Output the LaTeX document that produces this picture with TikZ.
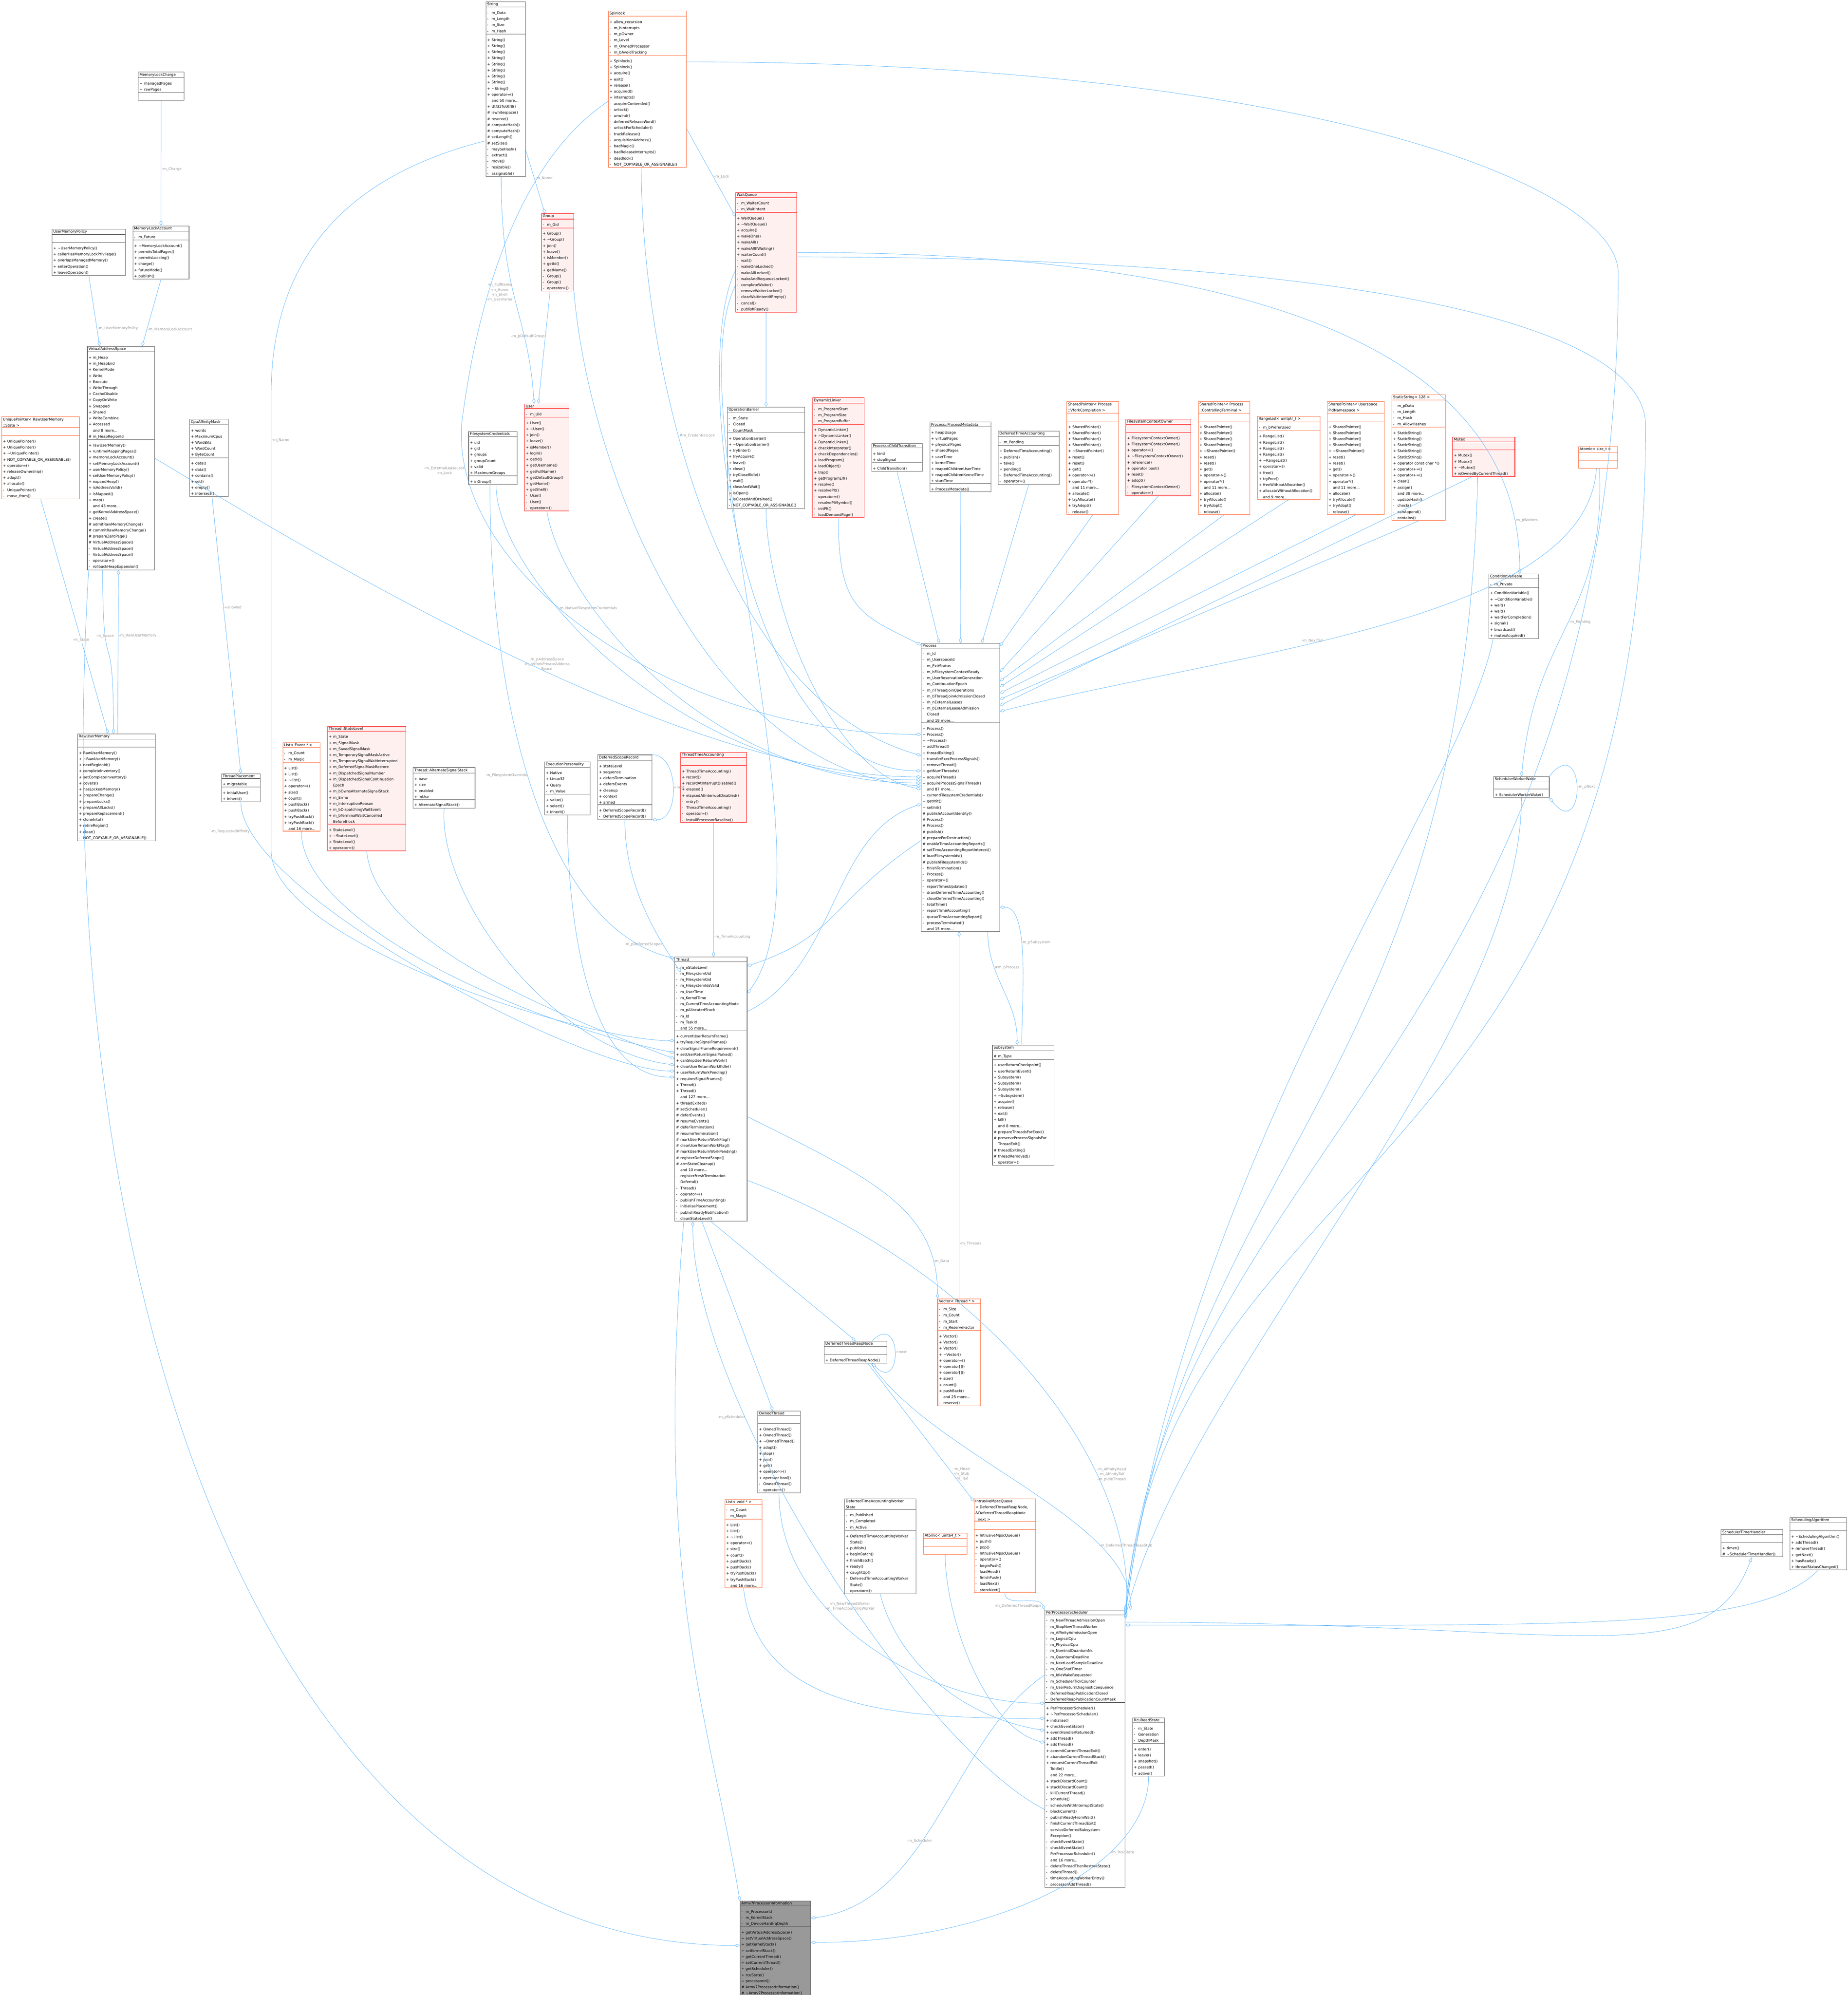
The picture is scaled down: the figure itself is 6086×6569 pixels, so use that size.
\documentclass[tikz,border=0pt]{standalone}
\usepackage{fontspec}
\setmainfont{DejaVu Sans}
\usetikzlibrary{shapes.multipart,arrows.meta,calc}
\definecolor{clsgray}{HTML}{666666}
\definecolor{tmplorange}{HTML}{FF6633}
\definecolor{hotred}{HTML}{FF0000}
\definecolor{hotfill}{HTML}{FFF0F0}
\definecolor{curgray}{HTML}{999999}
\definecolor{edgeblue}{HTML}{63B8FF}
\definecolor{lblgray}{HTML}{9A9A9A}
\newcommand\clsfont{\fontsize{3.0pt}{5pt}\selectfont\hyphenpenalty=10000\exhyphenpenalty=10000}
\newcommand\lblfont{\fontsize{3.0pt}{4pt}\selectfont}
\newcommand\mm[2]{\par\makebox[3.6pt][l]{#1}#2}
\newcommand\mc[1]{\par\hspace*{3.6pt}#1}
\newcommand\tl{\textasciitilde}
\setlength\parindent{0pt}
\tikzset{
  cls/.style={draw=clsgray, fill=white, rectangle split, rectangle split parts=3,
    rectangle split part align={center,left,left}, text width=#1,
    inner xsep=1pt, inner ysep=0.6pt, font=\clsfont, anchor=north west, line width=0.35pt},
  tmpl/.style={cls=#1, draw=tmplorange},
  hot/.style={cls=#1, draw=hotred, fill=hotfill},
  cur/.style={cls=#1, fill=curgray},
  agg/.style={draw=edgeblue, line width=0.3pt, -{Diamond[open,length=4.5pt,width=2.6pt]}},
  inh/.style={draw=edgeblue, line width=0.3pt, -{Triangle[open,length=4pt,width=3pt]}},
  lbl/.style={font=\lblfont, text=lblgray, align=center, inner sep=0.5pt}
}
\begin{document}
\begin{tikzpicture}[x=0.25pt, y=-0.25pt]
\useasboundingbox (0,0) rectangle (6086,6569);

% memory side
\node[cls=35.5pt] (charge) at (455,237) {MemoryLockCharge
  \nodepart{second}\mm{+}{managedPages}\mm{+}{rawPages}
  \nodepart{third}\strut};
\node[cls=58.5pt] (ump) at (171,754) {UserMemoryPolicy
  \nodepart{second}\strut
  \nodepart{third}\mm{+}{\tl UserMemoryPolicy()}\mm{+}{callerHasMemoryLockPrivilege()}\mm{+}{overlapsManagedMemory()}\mm{+}{enterOperation()}\mm{+}{leaveOperation()}};
\node[cls=44.25pt] (mla) at (437,743) {MemoryLockAccount
  \nodepart{second}\mm{-}{m\_Future}
  \nodepart{third}\mm{+}{\tl MemoryLockAccount()}\mm{+}{permitsTotalPages()}\mm{+}{permitsLocking()}\mm{+}{charge()}\mm{+}{futureMode()}\mm{+}{publish()}};
\node[cls=53.25pt] (vas) at (287,1140) {VirtualAddressSpace
  \nodepart{second}\mm{+}{m\_Heap}\mm{+}{m\_HeapEnd}\mm{+}{KernelMode}\mm{+}{Write}\mm{+}{Execute}\mm{+}{WriteThrough}\mm{+}{CacheDisable}\mm{+}{CopyOnWrite}\mm{+}{Swapped}\mm{+}{Shared}\mm{+}{WriteCombine}\mm{+}{Accessed}\mc{and 8 more...}\mm{\#}{m\_HeapRegionId}
  \nodepart{third}\mm{+}{rawUserMemory()}\mm{+}{runtimeMappingPages()}\mm{+}{memoryLockAccount()}\mm{+}{setMemoryLockAccount()}\mm{+}{userMemoryPolicy()}\mm{+}{setUserMemoryPolicy()}\mm{+}{expandHeap()}\mm{+}{isAddressValid()}\mm{+}{isMapped()}\mm{+}{map()}\mc{and 43 more...}\mm{+}{getKernelAddressSpace()}\mm{+}{create()}\mm{\#}{admitRawMemoryChange()}\mm{\#}{commitRawMemoryChange()}\mm{\#}{prepareZeroPage()}\mm{\#}{VirtualAddressSpace()}\mm{-}{VirtualAddressSpace()}\mm{-}{VirtualAddressSpace()}\mm{-}{operator=()}\mm{-}{rollbackHeapExpansion()}};
\node[tmpl=62.25pt] (uptr) at (5,1372) {UniquePointer< RawUserMemory\par::State >
  \nodepart{second}\strut
  \nodepart{third}\mm{+}{UniquePointer()}\mm{+}{UniquePointer()}\mm{+}{\tl UniquePointer()}\mm{+}{NOT\_COPYABLE\_OR\_ASSIGNABLE()}\mm{+}{operator=()}\mm{+}{releaseOwnership()}\mm{+}{adopt()}\mm{+}{allocate()}\mm{-}{UniquePointer()}\mm{-}{move\_from()}};
\node[cls=29.75pt] (cpu) at (624,1380) {CpuAffinityMask
  \nodepart{second}\mm{+}{words}\mm{+}{MaximumCpus}\mm{+}{WordBits}\mm{+}{WordCount}\mm{+}{ByteCount}
  \nodepart{third}\mm{+}{data()}\mm{+}{data()}\mm{+}{contains()}\mm{+}{set()}\mm{+}{empty()}\mm{+}{intersect()}};
\node[cls=62pt] (rum) at (255,2416) {RawUserMemory
  \nodepart{second}\strut
  \nodepart{third}\mm{+}{RawUserMemory()}\mm{+}{\tl RawUserMemory()}\mm{+}{nextRegionId()}\mm{+}{completeInventory()}\mm{+}{setCompleteInventory()}\mm{+}{covers()}\mm{+}{hasLockedMemory()}\mm{+}{prepareChange()}\mm{+}{prepareLocks()}\mm{+}{prepareAllLocks()}\mm{+}{prepareReplacement()}\mm{+}{cloneInto()}\mm{+}{retireRegion()}\mm{+}{clear()}\mm{-}{NOT\_COPYABLE\_OR\_ASSIGNABLE()}};
\node[cls=29.75pt] (tplace) at (729,2547) {ThreadPlacement
  \nodepart{second}\mm{+}{migratable}
  \nodepart{third}\mm{+}{initialUser()}\mm{+}{inherit()}};

% top row
\node[cls=30.5pt] (string) at (1600,5) {String
  \nodepart{second}\mm{-}{m\_Data}\mm{-}{m\_Length}\mm{-}{m\_Size}\mm{-}{m\_Hash}
  \nodepart{third}\mm{+}{String()}\mm{+}{String()}\mm{+}{String()}\mm{+}{String()}\mm{+}{String()}\mm{+}{String()}\mm{+}{String()}\mm{+}{String()}\mm{+}{\tl String()}\mm{+}{operator=()}\mc{and 50 more...}\mm{+}{Utf32ToUtf8()}\mm{\#}{iswhitespace()}\mm{\#}{reserve()}\mm{\#}{computeHash()}\mm{\#}{computeHash()}\mm{\#}{setLength()}\mm{\#}{setSize()}\mm{-}{maybeHash()}\mm{-}{extract()}\mm{-}{move()}\mm{-}{resizable()}\mm{-}{assignable()}};
\node[tmpl=62.25pt] (spin) at (2003,35) {Spinlock
  \nodepart{second}\mm{+}{allow\_recursion}\mm{-}{m\_bInterrupts}\mm{-}{m\_pOwner}\mm{-}{m\_Level}\mm{-}{m\_OwnedProcessor}\mm{-}{m\_bAvoidTracking}
  \nodepart{third}\mm{+}{Spinlock()}\mm{+}{Spinlock()}\mm{+}{acquire()}\mm{+}{exit()}\mm{+}{release()}\mm{+}{acquired()}\mm{+}{interrupts()}\mm{-}{acquireContended()}\mm{-}{unlock()}\mm{-}{unwind()}\mm{-}{deferredReleaseWord()}\mm{-}{unlockForScheduler()}\mm{-}{trackRelease()}\mm{-}{acquisitionAddress()}\mm{-}{badMagic()}\mm{-}{badReleaseInterrupts()}\mm{-}{deadlock()}\mm{-}{NOT\_COPYABLE\_OR\_ASSIGNABLE()}};
\node[hot=24.5pt] (group) at (1783,703) {Group
  \nodepart{second}\mm{-}{m\_Gid}
  \nodepart{third}\mm{+}{Group()}\mm{+}{\tl Group()}\mm{+}{join()}\mm{+}{leave()}\mm{+}{isMember()}\mm{+}{getId()}\mm{+}{getName()}\mm{-}{Group()}\mm{-}{Group()}\mm{-}{operator=()}};
\node[hot=48.25pt] (wait) at (2422,633) {WaitQueue
  \nodepart{second}\mm{-}{m\_WaiterCount}\mm{-}{m\_WaitIntent}
  \nodepart{third}\mm{+}{WaitQueue()}\mm{+}{\tl WaitQueue()}\mm{+}{acquire()}\mm{+}{wakeOne()}\mm{+}{wakeAll()}\mm{+}{wakeAllIfWaiting()}\mm{+}{waiterCount()}\mm{-}{wait()}\mm{-}{wakeOneLocked()}\mm{-}{wakeAllLocked()}\mm{-}{wakeAndRequeueLocked()}\mm{-}{completeWaiter()}\mm{-}{removeWaiterLocked()}\mm{-}{clearWaitIntentIfEmpty()}\mm{-}{cancel()}\mm{-}{publishReady()}};
\node[hot=34.75pt] (user) at (1727,1329) {User
  \nodepart{second}\mm{-}{m\_Uid}
  \nodepart{third}\mm{+}{User()}\mm{+}{\tl User()}\mm{+}{join()}\mm{+}{leave()}\mm{+}{isMember()}\mm{+}{login()}\mm{+}{getId()}\mm{+}{getUsername()}\mm{+}{getFullName()}\mm{+}{getDefaultGroup()}\mm{+}{getHome()}\mm{+}{getShell()}\mm{-}{User()}\mm{-}{User()}\mm{-}{operator=()}};
\node[cls=38pt] (fscred) at (1543,1420) {FilesystemCredentials
  \nodepart{second}\mm{+}{uid}\mm{+}{gid}\mm{+}{groups}\mm{+}{groupCount}\mm{+}{valid}\mm{+}{MaximumGroups}
  \nodepart{third}\mm{+}{inGroup()}};

% process member row
\node[cls=61.75pt] (opbar) at (2395,1340) {OperationBarrier
  \nodepart{second}\mm{-}{m\_State}\mm{-}{Closed}\mm{-}{CountMask}
  \nodepart{third}\mm{+}{OperationBarrier()}\mm{+}{\tl OperationBarrier()}\mm{+}{tryEnter()}\mm{+}{tryAcquire()}\mm{+}{leave()}\mm{+}{close()}\mm{+}{tryCloseIfIdle()}\mm{+}{wait()}\mm{+}{closeAndWait()}\mm{+}{isOpen()}\mm{+}{isClosedAndDrained()}\mm{-}{NOT\_COPYABLE\_OR\_ASSIGNABLE()}};
\node[hot=40.25pt] (dynld) at (2676,1309) {DynamicLinker
  \nodepart{second}\mm{-}{m\_ProgramStart}\mm{-}{m\_ProgramSize}\mm{-}{m\_ProgramBuffer}
  \nodepart{third}\mm{+}{DynamicLinker()}\mm{+}{\tl DynamicLinker()}\mm{+}{DynamicLinker()}\mm{+}{checkInterpreter()}\mm{+}{checkDependencies()}\mm{+}{loadProgram()}\mm{+}{loadObject()}\mm{+}{trap()}\mm{+}{getProgramElf()}\mm{+}{resolve()}\mm{+}{resolvePlt()}\mm{-}{operator=()}\mm{-}{resolvePltSymbol()}\mm{-}{initPlt()}\mm{-}{loadDemandPage()}};
\node[cls=39.75pt] (childtr) at (2870,1459) {Process::ChildTransition
  \nodepart{second}\mm{+}{kind}\mm{+}{stopSignal}
  \nodepart{third}\mm{+}{ChildTransition()}};
\node[cls=48.25pt] (procmeta) at (3062,1389) {Process::ProcessMetadata
  \nodepart{second}\mm{+}{heapUsage}\mm{+}{virtualPages}\mm{+}{physicalPages}\mm{+}{sharedPages}\mm{+}{userTime}\mm{+}{kernelTime}\mm{+}{reapedChildrenUserTime}\mm{+}{reapedChildrenKernelTime}\mm{+}{startTime}
  \nodepart{third}\mm{+}{ProcessMetadata()}};
\node[cls=48.25pt] (dta) at (3287,1419) {DeferredTimeAccounting
  \nodepart{second}\mm{-}{m\_Pending}
  \nodepart{third}\mm{+}{DeferredTimeAccounting()}\mm{+}{publish()}\mm{+}{take()}\mm{+}{pending()}\mm{-}{DeferredTimeAccounting()}\mm{-}{operator=()}};
\node[tmpl=40.75pt] (spvfork) at (3513,1322) {SharedPointer< Process\par::VforkCompletion >
  \nodepart{second}\strut
  \nodepart{third}\mm{+}{SharedPointer()}\mm{+}{SharedPointer()}\mm{+}{SharedPointer()}\mm{+}{SharedPointer()}\mm{+}{\tl SharedPointer()}\mm{+}{reset()}\mm{+}{reset()}\mm{+}{get()}\mm{+}{operator->()}\mm{+}{operator*()}\mc{and 11 more...}\mm{+}{allocate()}\mm{+}{tryAllocate()}\mm{+}{tryAdopt()}\mm{-}{release()}};
\node[hot=51.25pt] (fsco) at (3708,1379) {FilesystemContextOwner
  \nodepart{second}\strut
  \nodepart{third}\mm{+}{FilesystemContextOwner()}\mm{+}{FilesystemContextOwner()}\mm{+}{operator=()}\mm{+}{\tl FilesystemContextOwner()}\mm{+}{reference()}\mm{+}{operator bool()}\mm{+}{reset()}\mm{+}{adopt()}\mm{-}{FilesystemContextOwner()}\mm{-}{operator=()}};
\node[tmpl=40.5pt] (spctty) at (3946,1322) {SharedPointer< Process\par::ControllingTerminal >
  \nodepart{second}\strut
  \nodepart{third}\mm{+}{SharedPointer()}\mm{+}{SharedPointer()}\mm{+}{SharedPointer()}\mm{+}{SharedPointer()}\mm{+}{\tl SharedPointer()}\mm{+}{reset()}\mm{+}{reset()}\mm{+}{get()}\mm{+}{operator->()}\mm{+}{operator*()}\mc{and 11 more...}\mm{+}{allocate()}\mm{+}{tryAllocate()}\mm{+}{tryAdopt()}\mm{-}{release()}};
\node[tmpl=49.5pt] (range) at (4141,1370) {RangeList< uintptr\_t >
  \nodepart{second}\mm{-}{m\_bPreferUsed}
  \nodepart{third}\mm{+}{RangeList()}\mm{+}{RangeList()}\mm{+}{RangeList()}\mm{+}{RangeList()}\mm{+}{\tl RangeList()}\mm{+}{operator=()}\mm{+}{free()}\mm{+}{tryFree()}\mm{+}{freeWithoutAllocation()}\mm{+}{allocateWithoutAllocation()}\mc{and 9 more...}};
\node[tmpl=45pt] (sppid) at (4371,1322) {SharedPointer< Userspace\par PidNamespace >
  \nodepart{second}\strut
  \nodepart{third}\mm{+}{SharedPointer()}\mm{+}{SharedPointer()}\mm{+}{SharedPointer()}\mm{+}{SharedPointer()}\mm{+}{\tl SharedPointer()}\mm{+}{reset()}\mm{+}{reset()}\mm{+}{get()}\mm{+}{operator->()}\mm{+}{operator*()}\mc{and 11 more...}\mm{+}{allocate()}\mm{+}{tryAllocate()}\mm{+}{tryAdopt()}\mm{-}{release()}};
\node[tmpl=42pt] (sstr) at (4584,1299) {StaticString< 128 >
  \nodepart{second}\mm{-}{m\_pData}\mm{-}{m\_Length}\mm{-}{m\_Hash}\mm{-}{m\_AllowHashes}
  \nodepart{third}\mm{+}{StaticString()}\mm{+}{StaticString()}\mm{+}{StaticString()}\mm{+}{StaticString()}\mm{+}{StaticString()}\mm{+}{operator const char *()}\mm{+}{operator+=()}\mm{+}{operator+=()}\mm{+}{clear()}\mm{+}{assign()}\mc{and 38 more...}\mm{-}{updateHash()}\mm{-}{check()}\mm{-}{canAppend()}\mm{-}{contains()}};
\node[hot=49.25pt] (mutex) at (4784,1439) {Mutex
  \nodepart{second}\strut
  \nodepart{third}\mm{+}{Mutex()}\mm{+}{Mutex()}\mm{+}{\tl Mutex()}\mm{+}{isOwnedByCurrentThread()}};
\node[tmpl=30.25pt] (atomsz) at (5198,1470) {Atomic< size\_t >
  \nodepart{second}\strut
  \nodepart{third}\strut};
\node[cls=39pt] (condvar) at (4903,1889) {ConditionVariable
  \nodepart{second}\mm{-}{m\_Private}
  \nodepart{third}\mm{+}{ConditionVariable()}\mm{+}{\tl ConditionVariable()}\mm{+}{wait()}\mm{+}{wait()}\mm{+}{waitForCompletion()}\mm{+}{signal()}\mm{+}{broadcast()}\mm{+}{mutexAcquired()}};
\node[cls=43.75pt] (sww) at (4919,2556) {SchedulerWorkerWake
  \nodepart{second}\strut
  \nodepart{third}\mm{+}{SchedulerWorkerWake()}};

% thread member row
\node[tmpl=28.5pt] (evlist) at (931,2445) {List< Event * >
  \nodepart{second}\mm{-}{m\_Count}\mm{-}{m\_Magic}
  \nodepart{third}\mm{+}{List()}\mm{+}{List()}\mm{+}{\tl List()}\mm{+}{operator=()}\mm{+}{size()}\mm{+}{count()}\mm{+}{pushBack()}\mm{+}{pushBack()}\mm{+}{tryPushBack()}\mm{+}{tryPushBack()}\mc{and 16 more...}};
\node[hot=62.5pt] (stlevel) at (1078,2391) {Thread::StateLevel
  \nodepart{second}\mm{+}{m\_State}\mm{+}{m\_SignalMask}\mm{+}{m\_SavedSignalMask}\mm{+}{m\_TemporarySignalMaskActive}\mm{+}{m\_TemporarySignalWaitInterrupted}\mm{+}{m\_DeferredSignalMaskRestore}\mm{+}{m\_DispatchedSignalNumber}\mm{+}{m\_DispatchedSignalContinuation}\mc{Epoch}\mm{+}{m\_bOwnsAlternateSignalStack}\mm{+}{m\_Errno}\mm{+}{m\_InterruptionReason}\mm{+}{m\_bDispatchingWaitEvent}\mm{+}{m\_bTerminalWaitCancelled}\mc{BeforeBlock}
  \nodepart{third}\mm{+}{StateLevel()}\mm{+}{\tl StateLevel()}\mm{+}{StateLevel()}\mm{+}{operator=()}};
\node[cls=49pt] (altsig) at (1360,2527) {Thread::AlternateSignalStack
  \nodepart{second}\mm{+}{base}\mm{+}{size}\mm{+}{enabled}\mm{+}{inUse}
  \nodepart{third}\mm{+}{AlternateSignalStack()}};
\node[cls=35.5pt] (execp) at (1793,2508) {ExecutionPersonality
  \nodepart{second}\mm{+}{Native}\mm{+}{Linux32}\mm{+}{Query}\mm{-}{m\_Value}
  \nodepart{third}\mm{+}{value()}\mm{+}{select()}\mm{+}{inherit()}};
\node[cls=42.75pt] (dscope) at (1968,2485) {DeferredScopeRecord
  \nodepart{second}\mm{+}{stateLevel}\mm{+}{sequence}\mm{+}{defersTermination}\mm{+}{defersEvents}\mm{+}{cleanup}\mm{+}{context}\mm{+}{armed}
  \nodepart{third}\mm{+}{DeferredScopeRecord()}\mm{-}{DeferredScopeRecord()}};
\node[hot=52.25pt] (tacct) at (2241,2476) {ThreadTimeAccounting
  \nodepart{second}\strut
  \nodepart{third}\mm{+}{ThreadTimeAccounting()}\mm{+}{record()}\mm{+}{recordAtInterruptDisabled()}\mm{+}{elapsed()}\mm{+}{elapsedAtInterruptDisabled()}\mm{-}{entry()}\mm{-}{ThreadTimeAccounting()}\mm{-}{operator=()}\mm{-}{installProcessorBaseline()}};

% core
\node[cls=62.5pt] (process) at (3034,2118) {Process
  \nodepart{second}\mm{-}{m\_Id}\mm{-}{m\_UserspaceId}\mm{-}{m\_ExitStatus}\mm{-}{m\_bFilesystemContextReady}\mm{-}{m\_UserReservationGeneration}\mm{-}{m\_ContinuationEpoch}\mm{-}{m\_nThreadJoinOperations}\mm{-}{m\_bThreadJoinAdmissionClosed}\mm{-}{m\_nExternalLeases}\mm{-}{m\_bExternalLeaseAdmission}\mc{Closed}\mc{and 19 more...}
  \nodepart{third}\mm{+}{Process()}\mm{+}{Process()}\mm{+}{\tl Process()}\mm{+}{addThread()}\mm{+}{threadExiting()}\mm{+}{transferExecProcessSignals()}\mm{+}{removeThread()}\mm{+}{getNumThreads()}\mm{+}{acquireThread()}\mm{+}{acquireProcessSignalThread()}\mc{and 87 more...}\mm{+}{currentFilesystemCredentials()}\mm{+}{getInit()}\mm{+}{setInit()}\mm{\#}{publishAccountIdentity()}\mm{\#}{Process()}\mm{\#}{Process()}\mm{\#}{publish()}\mm{\#}{prepareForDestruction()}\mm{\#}{enableTimeAccountingReports()}\mm{\#}{setTimeAccountingReportInterest()}\mm{\#}{loadFilesystemIds()}\mm{\#}{publishFilesystemIds()}\mm{-}{finishTermination()}\mm{-}{Process()}\mm{-}{operator=()}\mm{-}{reportTimesUpdated()}\mm{-}{drainDeferredTimeAccounting()}\mm{-}{closeDeferredTimeAccounting()}\mm{-}{totalTime()}\mm{-}{reportTimeAccounting()}\mm{-}{queueTimeAccountingReport()}\mm{-}{processTerminated()}\mc{and 15 more...}};
\node[cls=57.5pt] (thread) at (2222,3151) {Thread
  \nodepart{second}\mm{-}{m\_nStateLevel}\mm{-}{m\_FilesystemUid}\mm{-}{m\_FilesystemGid}\mm{-}{m\_FilesystemIdsValid}\mm{-}{m\_UserTime}\mm{-}{m\_KernelTime}\mm{-}{m\_CurrentTimeAccountingMode}\mm{-}{m\_pAllocatedStack}\mm{-}{m\_Id}\mm{-}{m\_TaskId}\mc{and 55 more...}
  \nodepart{third}\mm{+}{currentUserReturnFrame()}\mm{+}{tryRequireSignalFrames()}\mm{+}{clearSignalFrameRequirement()}\mm{+}{setUserReturnSignalParked()}\mm{+}{canSkipUserReturnWork()}\mm{+}{clearUserReturnWorkIfIdle()}\mm{+}{userReturnWorkPending()}\mm{+}{requiresSignalFrames()}\mm{+}{Thread()}\mm{+}{Thread()}\mc{and 127 more...}\mm{+}{threadExited()}\mm{\#}{setScheduler()}\mm{\#}{deferEvents()}\mm{\#}{resumeEvents()}\mm{\#}{deferTermination()}\mm{\#}{resumeTermination()}\mm{\#}{markUserReturnWorkFlag()}\mm{\#}{clearUserReturnWorkFlag()}\mm{\#}{markUserReturnWorkPending()}\mm{\#}{registerDeferredScope()}\mm{\#}{armStateCleanup()}\mc{and 10 more...}\mm{-}{registerFreshTermination}\mc{Deferral()}\mm{-}{Thread()}\mm{-}{operator=()}\mm{-}{publishTimeAccounting()}\mm{-}{initialisePlacement()}\mm{-}{publishReadyNotification()}\mm{-}{cleanStateLevel()}};
\node[cls=48.75pt] (subsys) at (3268,3441) {Subsystem
  \nodepart{second}\mm{\#}{m\_Type}
  \nodepart{third}\mm{+}{userReturnCheckpoint()}\mm{+}{userReturnEvent()}\mm{+}{Subsystem()}\mm{+}{Subsystem()}\mm{+}{Subsystem()}\mm{+}{\tl Subsystem()}\mm{+}{acquire()}\mm{+}{release()}\mm{+}{exit()}\mm{+}{kill()}\mc{and 8 more...}\mm{\#}{prepareThreadsForExec()}\mm{\#}{preserveProcessSignalsFor}\mc{ThreadExit()}\mm{\#}{threadExiting()}\mm{\#}{threadRemoved()}\mm{-}{operator=()}};
\node[tmpl=33.25pt] (vecthr) at (3088,4276) {Vector< Thread * >
  \nodepart{second}\mm{-}{m\_Size}\mm{-}{m\_Count}\mm{-}{m\_Start}\mm{-}{m\_ReserveFactor}
  \nodepart{third}\mm{+}{Vector()}\mm{+}{Vector()}\mm{+}{Vector()}\mm{+}{\tl Vector()}\mm{+}{operator=()}\mm{+}{operator[]()}\mm{+}{operator[]()}\mm{+}{size()}\mm{+}{count()}\mm{+}{pushBack()}\mc{and 25 more...}\mm{-}{reserve()}};

% scheduler side
\node[cls=49.75pt] (reapnode) at (2714,4415) {DeferredThreadReapNode
  \nodepart{second}\strut
  \nodepart{third}\mm{+}{DeferredThreadReapNode()}};
\node[cls=33pt] (owned) at (2495,4645) {OwnedThread
  \nodepart{second}\strut
  \nodepart{third}\mm{+}{OwnedThread()}\mm{+}{OwnedThread()}\mm{+}{\tl OwnedThread()}\mm{+}{adopt()}\mm{+}{stop()}\mm{+}{join()}\mm{+}{get()}\mm{+}{operator->()}\mm{+}{operator bool()}\mm{-}{OwnedThread()}\mm{-}{operator=()}};
\node[tmpl=28.5pt] (voidlist) at (2387,4937) {List< void * >
  \nodepart{second}\mm{-}{m\_Count}\mm{-}{m\_Magic}
  \nodepart{third}\mm{+}{List()}\mm{+}{List()}\mm{+}{\tl List()}\mm{+}{operator=()}\mm{+}{size()}\mm{+}{count()}\mm{+}{pushBack()}\mm{+}{pushBack()}\mm{+}{tryPushBack()}\mm{+}{tryPushBack()}\mc{and 16 more...}};
\node[cls=56.75pt] (dtaws) at (2781,4934) {DeferredTimeAccountingWorker\par State
  \nodepart{second}\mm{-}{m\_Published}\mm{-}{m\_Completed}\mm{-}{m\_Active}
  \nodepart{third}\mm{+}{DeferredTimeAccountingWorker}\mc{State()}\mm{+}{publish()}\mm{+}{beginBatch()}\mm{+}{finishBatch()}\mm{+}{ready()}\mm{+}{caughtUp()}\mm{-}{DeferredTimeAccountingWorker}\mc{State()}\mm{-}{operator=()}};
\node[tmpl=33.75pt] (atom64) at (3041,5047) {Atomic< uint64\_t >
  \nodepart{second}\strut
  \nodepart{third}\strut};
\node[tmpl=48.5pt] (mpsc) at (3208,4934) {IntrusiveMpscQueue\par< DeferredThreadReapNode,\par \&DeferredThreadReapNode\par ::next >
  \nodepart{second}\strut
  \nodepart{third}\mm{+}{IntrusiveMpscQueue()}\mm{+}{push()}\mm{+}{pop()}\mm{-}{IntrusiveMpscQueue()}\mm{-}{operator=()}\mm{-}{beginPush()}\mm{-}{loadHead()}\mm{-}{finishPush()}\mm{-}{loadNext()}\mm{-}{storeNext()}};
\node[cls=64pt] (pps) at (3441,5301) {PerProcessorScheduler
  \nodepart{second}\mm{-}{m\_NewThreadAdmissionOpen}\mm{-}{m\_StopNewThreadWorker}\mm{-}{m\_AffinityAdmissionOpen}\mm{-}{m\_LogicalCpu}\mm{-}{m\_PhysicalCpu}\mm{-}{m\_NominalQuantumNs}\mm{-}{m\_QuantumDeadline}\mm{-}{m\_NextLoadSampleDeadline}\mm{-}{m\_OneShotTimer}\mm{-}{m\_IdleWakeRequested}\mm{-}{m\_SchedulerTickCounter}\mm{-}{m\_UserReturnDiagnosticSequence}\mm{-}{DeferredReapPublicationClosed}\mm{-}{DeferredReapPublicationCountMask}
  \nodepart{third}\mm{+}{PerProcessorScheduler()}\mm{+}{\tl PerProcessorScheduler()}\mm{+}{initialise()}\mm{+}{checkEventState()}\mm{+}{eventHandlerReturned()}\mm{+}{addThread()}\mm{+}{addThread()}\mm{+}{commitCurrentThreadExit()}\mm{+}{abandonCurrentThreadStack()}\mm{+}{requestCurrentThreadExit}\mc{ToIdle()}\mc{and 22 more...}\mm{+}{stackDiscardCount()}\mm{+}{stackDiscardCount()}\mm{-}{killCurrentThread()}\mm{-}{schedule()}\mm{-}{scheduleWithInterruptState()}\mm{-}{blockCurrent()}\mm{-}{publishReadyFromWait()}\mm{-}{finishCurrentThreadExit()}\mm{-}{serviceDeferredSubsystem}\mc{Exception()}\mm{-}{checkEventState()}\mm{-}{checkEventState()}\mm{-}{PerProcessorScheduler()}\mc{and 16 more...}\mm{-}{deleteThreadThenRestoreState()}\mm{-}{deleteThread()}\mm{-}{timeAccountingWorkerEntry()}\mm{-}{processorAddThread()}};
\node[cls=24.25pt] (rcu) at (3730,5656) {RcuReadState
  \nodepart{second}\mm{-}{m\_State}\mm{-}{Generation}\mm{-}{DepthMask}
  \nodepart{third}\mm{+}{enter()}\mm{+}{leave()}\mm{+}{snapshot()}\mm{+}{passed()}\mm{+}{active()}};
\node[cls=48.75pt] (timerh) at (5668,5036) {SchedulerTimerHandler
  \nodepart{second}\strut
  \nodepart{third}\mm{+}{timer()}\mm{\#}{\tl SchedulerTimerHandler()}};
\node[cls=44.5pt] (salgo) at (5895,4996) {SchedulingAlgorithm
  \nodepart{second}\strut
  \nodepart{third}\mm{+}{\tl SchedulingAlgorithm()}\mm{+}{addThread()}\mm{+}{removeThread()}\mm{+}{getNext()}\mm{+}{hasReady()}\mm{+}{threadStatusChanged()}};
\node[cur=56.25pt] (armv7) at (2437,6259) {Armv7ProcessorInformation
  \nodepart{second}\mm{-}{m\_ProcessorId}\mm{-}{m\_KernelStack}\mm{-}{m\_DeviceHardIrqDepth}
  \nodepart{third}\mm{+}{getVirtualAddressSpace()}\mm{+}{setVirtualAddressSpace()}\mm{+}{getKernelStack()}\mm{+}{setKernelStack()}\mm{+}{getCurrentThread()}\mm{+}{setCurrentThread()}\mm{+}{getScheduler()}\mm{+}{rcuState()}\mm{+}{processorId()}\mm{\#}{Armv7ProcessorInformation()}\mm{\#}{\tl Armv7ProcessorInformation()}};

% memory edges
\draw[agg] (charge.south) -- node[lbl, right, pos=0.55]{-m\_Charge} (mla.north);
\draw[agg] (ump.south) -- node[lbl, right, pos=0.75]{-m\_UserMemoryPolicy} ($(vas.north)+(-70,0)$);
\draw[agg] (mla.south) -- node[lbl, right, pos=0.75]{-m\_MemoryLockAccount} ($(vas.north)+(70,0)$);
\draw[agg] (uptr.south) -- node[lbl, pos=0.6, fill=white]{-m\_State} ($(rum.north)+(-28,0)$);
\draw[agg] ($(vas.south)+(-60,0)$) .. controls +(0,400) and +(0,-400) .. node[lbl, pos=0.3, fill=white]{-m\_Space} ($(rum.north)+(-10,0)$);
\draw[agg] ($(rum.north)+(4,0)$) -- node[lbl, right, pos=0.6]{-m\_RawUserMemory} ($(vas.south)+(-8,0)$);
\draw[agg] ($(cpu.south)+(10,0)$) -- node[lbl, right, pos=0.4]{+allowed} (tplace.north);
\draw[agg] (tplace.south) .. controls +(0,300) and +(-300,0) .. node[lbl, pos=0.1, left]{-m\_RequestedAffinity} ($(thread.west)+(0,-60)$);

% string, group, user
\draw[agg] ($(string.east)+(0,200)$) -- node[lbl, right, pos=0.45]{-m\_Name} ($(group.north west)+(12,0)$);
\draw[agg] ($(string.south)+(-15,0)$) .. controls +(0,400) and +(-20,-300) .. node[lbl, pos=0.45, left]{-m\_FullName\\-m\_Home\\-m\_Shell\\-m\_Username} ($(user.north)+(-42,0)$);
\draw[agg] ($(group.south)+(-25,0)$) -- node[lbl, pos=0.4, left]{-m\_pDefaultGroup} ($(user.north)+(-28,0)$);
\draw[agg] ($(string.west)+(0,170)$) .. controls +(-400,100) and +(0,-500) .. (893,1300) -- node[lbl, pos=0.1, right]{-m\_Name} (893,2800) .. controls +(0,300) and +(-300,0) .. ($(thread.west)+(0,-160)$);

% locks and queues
\draw[agg] ($(spin.east)+(0,130)$) -- node[lbl, right, pos=0.55]{-m\_Lock} ($(wait.north west)+(0,80)$);
\draw[agg] ($(spin.west)+(0,40)$) .. controls +(-300,200) and +(50,-400) .. (1520,1400) .. controls +(-30,500) and +(-800,0) .. node[lbl, pos=0.1, left]{-m\_ExternalLeaseLock\\-m\_Lock} ($(process.north west)+(0,300)$);
\draw[agg] ($(spin.south)+(-20,0)$) .. controls +(0,600) and +(-700,-200) .. node[lbl, pos=0.4, right]{\#m\_CredentialLock} ($(process.north west)+(0,370)$);
\draw[agg] ($(spin.east)+(0,-90)$) .. controls +(2000,0) and +(0,-300) .. (5330,900) .. controls +(0,2500) and +(150,-1500) .. (pps.north east);
\draw[agg] (wait.east) .. controls +(1800,0) and +(0,-600) .. node[lbl, pos=0.9, right]{-m\_pWaiters} ($(condvar.north)+(20,0)$);
\draw[agg] ($(wait.east)+(0,15)$) .. controls +(2000,0) and +(0,-300) .. (5420,1400) .. controls +(0,2500) and +(150,-1500) .. ($(pps.north east)+(0,6)$);
\draw[agg] (wait.south) -- (opbar.north);
\draw[agg] ($(wait.west)+(0,60)$) .. controls +(-150,300) and +(-600,0) .. ($(process.north west)+(0,420)$);
\draw[agg] ($(wait.west)+(0,110)$) .. controls +(-200,400) and +(300,-400) .. ($(thread.north east)+(0,120)$);

% process members
\draw[agg] (vas.east) .. controls +(500,300) and +(-800,0) .. node[lbl, pos=0.55, above]{-m\_pAddressSpace\\-m\_pVforkPrivateAddress\\Space} ($(process.north west)+(0,440)$);
\draw[agg] ($(fscred.south)+(10,0)$) .. controls +(0,300) and +(-800,0) .. node[lbl, pos=0.35, right]{-m\_NativeFilesystemCredentials} ($(process.north west)+(0,450)$);
\draw[agg] ($(fscred.south)+(-10,0)$) .. controls +(0,800) and +(-400,-100) .. node[lbl, pos=0.45, left]{-m\_FilesystemOverride} ($(thread.north west)+(0,5)$);
\draw[agg] (user.south) .. controls +(50,300) and +(-700,0) .. ($(process.north west)+(0,460)$);
\draw[agg] (group.south east) .. controls +(50,600) and +(-700,-50) .. ($(process.north west)+(0,470)$);
\draw[agg] (opbar.south) .. controls +(0,300) and +(-300,-50) .. ($(process.north west)+(0,480)$);
\draw[agg] (dynld.south) .. controls +(0,300) and +(-200,-100) .. ($(process.north west)+(0,6)$);
\draw[agg] (childtr.south) -- ($(process.north)+(-70,0)$);
\draw[agg] (procmeta.south) -- (process.north);
\draw[agg] (dta.south) -- ($(process.north)+(70,0)$);
\draw[agg] (spvfork.south) -- ($(process.north east)+(0,10)$);
\draw[agg] (fsco.south) -- ($(process.east)+(0,-380)$);
\draw[agg] (spctty.south) -- ($(process.east)+(0,-350)$);
\draw[agg] (range.south) -- ($(process.east)+(0,-330)$);
\draw[agg] (sppid.south) -- ($(process.east)+(0,-310)$);
\draw[agg] (sstr.south) -- ($(process.east)+(0,-290)$);
\draw[agg] ($(mutex.south)+(-40,0)$) -- ($(process.east)+(0,-270)$);
\draw[agg] ($(mutex.south)+(-20,0)$) .. controls +(-50,2000) and +(200,-1500) .. ($(pps.north east)+(0,12)$);
\draw[agg] ($(atomsz.south)+(-5,0)$) .. controls +(-30,500) and +(800,-200) .. node[lbl, pos=0.6, above]{-m\_NextTid} ($(process.east)+(0,-250)$);
\draw[agg] ($(atomsz.south)+(5,0)$) .. controls +(20,500) and +(50,-500) .. node[lbl, pos=0.5, right]{-m\_Pending} (sww.north);
\draw[agg] ($(condvar.south west)+(15,0)$) .. controls +(-100,500) and +(200,-1500) .. ($(pps.north east)+(0,18)$);
\draw[agg] (sww.north east) .. controls +(120,-150) and +(120,150) .. node[lbl, pos=0.5, right]{-m\_pNext} (sww.south east);
\draw[agg] (sww.south) .. controls +(0,800) and +(200,-800) .. ($(pps.north east)+(0,24)$);

% thread members
\draw[agg] (evlist.south) .. controls +(0,300) and +(-500,-100) .. ($(thread.west)+(0,-120)$);
\draw[agg] (stlevel.south) .. controls +(30,300) and +(-400,-150) .. ($(thread.west)+(0,-100)$);
\draw[agg] (altsig.south) .. controls +(-20,300) and +(-400,-50) .. ($(thread.west)+(0,-80)$);
\draw[agg] (execp.south) .. controls +(0,300) and +(-300,0) .. ($(thread.west)+(0,-40)$);
\draw[agg] (dscope.south) .. controls +(0,200) and +(-100,-150) .. node[lbl, pos=0.8, left]{-m\_pDeferredScopes} ($(thread.north west)+(20,50)$);
\draw[agg] (dscope.north east) .. controls +(90,0) and +(90,0) .. node[lbl, pos=0.5, right]{+next} (dscope.south east);
\draw[agg] (tacct.south) -- node[lbl, pos=0.85, right]{-m\_TimeAccounting} (tacct.south |- thread.north);
\draw[agg] ($(process.south west)+(0,-300)$) .. controls +(-300,200) and +(300,-100) .. ($(thread.north east)+(0,30)$);
\draw[agg] ($(thread.north east)+(0,180)$) .. controls +(300,-150) and +(-300,100) .. ($(process.south west)+(0,-420)$);

% process, subsystem, vector
\draw[agg] ($(process.south east)+(-40,0)$) .. controls +(0,150) and +(0,-150) .. node[lbl, pos=0.3, right]{\#m\_pProcess} ($(subsys.north)+(-20,0)$);
\draw[agg] ($(subsys.north)+(-5,0)$) .. controls +(0,-150) and +(100,0) .. node[lbl, pos=0.6, right]{-m\_pSubsystem} ($(process.south east)+(0,-80)$);
\draw[agg] (vecthr.north) -- node[lbl, pos=0.15, right]{-m\_Threads} (vecthr.north |- process.south);
\draw[agg] ($(thread.east)+(0,90)$) .. controls +(400,200) and +(0,-300) .. node[lbl, pos=0.85, right]{-m\_Data} (vecthr.north west);

% scheduler edges
\draw[agg] (thread.south) -- (reapnode.north);
\draw[agg] ($(thread.south)+(-30,0)$) -- ($(owned.north)+(-20,0)$);
\draw[agg] ($(reapnode.north east)+(-50,0)$) .. controls +(100,-100) and +(100,100) .. node[lbl, pos=0.5, right]{+next} ($(reapnode.south east)+(-50,0)$);
\draw[agg] ($(reapnode.south)+(40,0)$) -- node[lbl, pos=0.8, right]{-m\_Head\\-m\_Stub\\-m\_Tail} ($(mpsc.north west)+(0,10)$);
\draw[agg] ($(reapnode.south)+(50,0)$) .. controls +(200,300) and +(0,-300) .. node[lbl, pos=0.75, right]{-m\_DeferredThreadReapStub} ($(pps.north)+(150,0)$);
\draw[agg] ($(thread.east)+(0,300)$) .. controls +(800,300) and +(50,-500) .. node[lbl, pos=0.7, right]{-m\_AffinityHead\\-m\_AffinityTail\\-m\_pIdleThread} ($(pps.north east)+(0,30)$);
\draw[agg] (owned.south) .. controls +(0,400) and +(-400,0) .. node[lbl, pos=0.35, right]{-m\_NewThreadWorker\\-m\_TimeAccountingWorker} ($(pps.west)+(0,-150)$);
\draw[agg] (voidlist.south) .. controls +(50,400) and +(-500,0) .. ($(pps.west)+(0,-100)$);
\draw[agg] (dtaws.south) .. controls +(50,200) and +(-300,-50) .. ($(pps.west)+(0,-60)$);
\draw[agg] (atom64.south) .. controls +(0,200) and +(-200,-50) .. ($(pps.west)+(0,-20)$);
\draw[agg] (mpsc.south) .. controls +(0,50) and +(-20,-50) .. node[lbl, pos=0.9, left]{-m\_DeferredThreadReaps} (pps.north west);
\draw[agg] ($(pps.west)+(0,200)$) .. controls +(-400,-200) and +(0,600) .. node[lbl, pos=0.7, left]{-m\_pScheduler} ($(thread.south)+(-60,0)$);
\draw[inh] ($(pps.north east)+(0,40)$) .. controls +(1500,0) and +(-150,400) .. (timerh.south);
\draw[agg] (salgo.south) .. controls +(-200,200) and +(1500,0) .. ($(pps.north east)+(0,50)$);
\draw[agg] ($(thread.south west)+(30,0)$) .. controls +(-100,1200) and +(-100,-600) .. (armv7.north west);
\draw[agg] ($(pps.south west)+(0,-700)$) .. controls +(-300,200) and +(400,-50) .. node[lbl, pos=0.6, above]{-m\_Scheduler} ($(armv7.east)+(0,-100)$);
\draw[agg] (rcu.south) .. controls +(0,300) and +(600,0) .. node[lbl, pos=0.3, right]{-m\_RcuState} ($(armv7.east)+(0,-20)$);
\draw[agg] ($(vas.south west)+(5,0)$) .. controls +(-150,2500) and +(-1500,0) .. ($(armv7.west)+(0,-10)$);
\end{tikzpicture}
\end{document}
